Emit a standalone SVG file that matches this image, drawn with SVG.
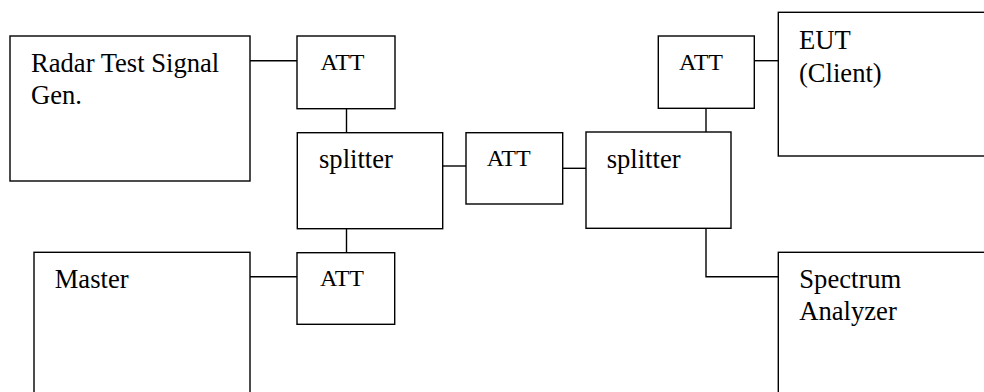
<svg xmlns="http://www.w3.org/2000/svg" width="984" height="392" viewBox="0 0 984 392">
<style>
.box{fill:#fff;stroke:#000;stroke-width:1.4}
.ln{fill:none;stroke:#000;stroke-width:1.4}
text{font-family:"Liberation Serif","Times New Roman",serif;fill:#000;font-size:26.6px}
.s{font-size:24px}
</style>
<rect width="984" height="392" fill="#fff"/>
<g id="connectors">
<path class="ln" d="M250 60.7H297"/>
<path class="ln" d="M346.5 108.7V132.7"/>
<path class="ln" d="M443 166H466"/>
<path class="ln" d="M563 168.3H586"/>
<path class="ln" d="M346.5 228.7V252.7"/>
<path class="ln" d="M250 276.7H297"/>
<path class="ln" d="M706 108.3V132"/>
<path class="ln" d="M754.3 60.7H778.3"/>
<path class="ln" d="M706 228.3V276.7H778.3"/>
</g>
<g id="radar"><rect class="box" x="10" y="36" width="240" height="145"/><text x="31" y="71.7">Radar Test Signal</text><text x="31" y="103.5">Gen.</text></g>
<g id="att1"><rect class="box" x="297" y="36" width="98" height="72.7"/><text class="s" x="320.5" y="69.5">ATT</text></g>
<g id="splitter1"><rect class="box" x="297.3" y="132.7" width="145.4" height="96"/><text x="319" y="167.7">splitter</text></g>
<g id="att2"><rect class="box" x="466" y="132.7" width="96.7" height="71.3"/><text class="s" x="486.7" y="166">ATT</text></g>
<g id="splitter2"><rect class="box" x="586" y="132" width="145" height="96.3"/><text x="606.7" y="168">splitter</text></g>
<g id="att3"><rect class="box" x="658.3" y="36" width="96" height="72.3"/><text class="s" x="679" y="70">ATT</text></g>
<g id="eut"><rect class="box" x="778.3" y="12.3" width="220" height="143.7"/><text x="799" y="49">EUT</text><text x="799" y="81.5">(Client)</text></g>
<g id="att4"><rect class="box" x="297" y="252.7" width="97.7" height="71.6"/><text class="s" x="320" y="286">ATT</text></g>
<g id="master"><rect class="box" x="34" y="252.3" width="216" height="160"/><text x="54.7" y="288.3">Master</text></g>
<g id="spectrum"><rect class="box" x="778.3" y="252.3" width="220" height="160"/><text x="799.3" y="288.3">Spectrum</text><text x="799.3" y="320">Analyzer</text></g>
</svg>
